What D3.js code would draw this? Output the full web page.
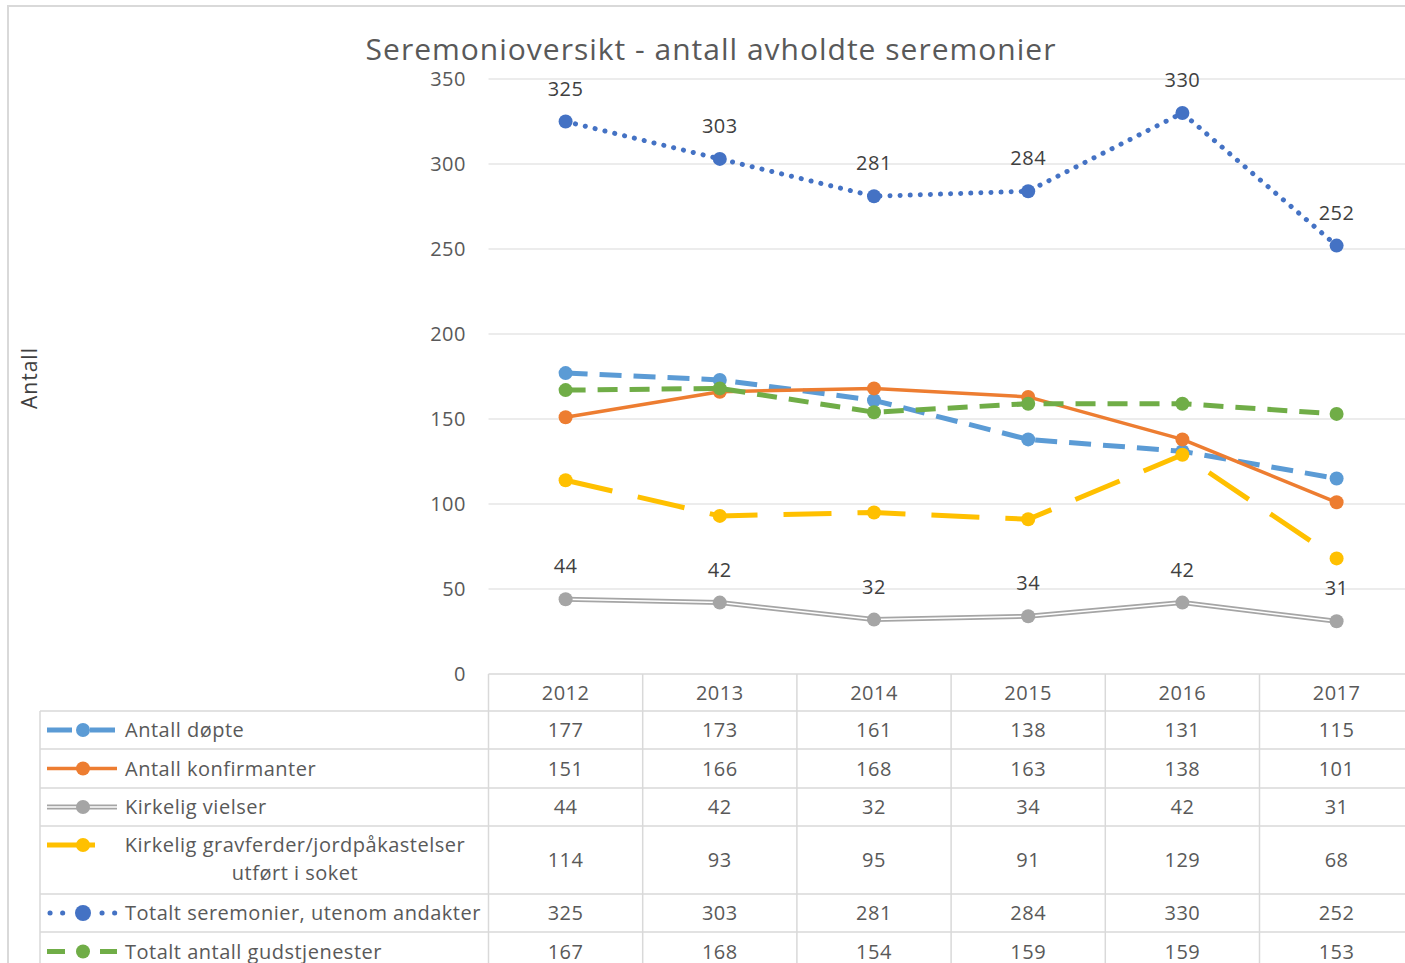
<!DOCTYPE html>
<html>
<head>
<meta charset="utf-8">
<script src="https://cdn.jsdelivr.net/npm/d3@7/dist/d3.min.js"></script>
<style>
  html, body { margin: 0; padding: 0; background: #fff; }
  svg { display: block; font-family: "Open Sans", sans-serif; }
</style>
</head>
<body>
<div id="chart"></div>
<script>
// data
const years = ['2012', '2013', '2014', '2015', '2016', '2017'];
const dopte = [177, 173, 161, 138, 131, 115];
const konfirmanter = [151, 166, 168, 163, 138, 101];
const vielser = [44, 42, 32, 34, 42, 31];
const gravferder = [114, 93, 95, 91, 129, 68];
const seremonier = [325, 303, 281, 284, 330, 252];
const gudstjenester = [167, 168, 154, 159, 159, 153];
const yTicks = [0, 50, 100, 150, 200, 250, 300, 350];

const series = [
    { name: ['Antall døpte'], values: dopte, color: '#5B9BD5', dash: '22 12', keyDash: '25 18', width: 5, cap: 'butt' },
    { name: ['Antall konfirmanter'], values: konfirmanter, color: '#ED7D31', dash: null, keyDash: null, width: 3.5, cap: 'butt' },
    { name: ['Kirkelig vielser'], values: vielser, color: '#A5A5A5', dash: null, keyDash: null, width: 5, cap: 'butt', double: true, labels: true },
    { name: ['Kirkelig gravferder/jordpåkastelser', 'utført i soket'], values: gravferder, color: '#FFC000', dash: '48 26', keyDash: null, keyEnd: 95, width: 5, cap: 'butt' },
    { name: ['Totalt seremonier, utenom andakter'], values: seremonier, color: '#4472C4', dash: '0.1 10', keyDash: '0.1 12.5', keyGap: true, width: 5, cap: 'round', labels: true },
    { name: ['Totalt antall gudstjenester'], values: gudstjenester, color: '#70AD47', dash: '20 12', keyDash: '18 35', width: 5, cap: 'butt' }
];

const W = 1405, H = 963;
const plot = { left: 488.5, right: 1413.7, top: 79, bottom: 674 };
const legend = { left: 40, textX: 125 };
const rowEdges = [674, 711, 749, 788, 826, 894, 932, 971];
const textStyle = g => g.attr('font-size', 20).attr('letter-spacing', 0.5).attr('fill', '#595959');

const svg = d3.select('#chart').append('svg')
    .attr('width', W)
    .attr('height', H);

// frame
svg.append('path')
    .attr('d', `M8,${H} L8,6 L${W},6`)
    .attr('fill', 'none')
    .attr('stroke', '#d9d9d9')
    .attr('stroke-width', 2);

const x = d3.scaleBand().domain(years).range([plot.left, plot.right]);
const y = d3.scaleLinear().domain([0, 350]).range([plot.bottom, plot.top]);
const cx = i => x(years[i]) + x.bandwidth() / 2;

// gridlines
svg.append('g')
    .selectAll('line')
    .data(yTicks.filter(d => d > 0))
    .join('line')
    .attr('x1', plot.left)
    .attr('x2', plot.right)
    .attr('y1', d => y(d))
    .attr('y2', d => y(d))
    .attr('stroke', '#d9d9d9')
    .attr('stroke-width', 1.2);

// y axis labels
const yAxis = d3.axisLeft(y).tickValues(yTicks).tickSize(0).tickPadding(0);
svg.append('g')
    .attr('transform', 'translate(466,0)')
    .call(yAxis)
    .call(g => g.select('.domain').remove())
    .call(g => g.selectAll('text')
        .attr('font-family', '"Open Sans", sans-serif')
        .call(textStyle));

// y axis title
svg.append('text')
    .attr('transform', 'translate(37,378) rotate(-90)')
    .attr('text-anchor', 'middle')
    .attr('font-size', 21)
    .attr('letter-spacing', 1)
    .attr('fill', '#404040')
    .text('Antall');

// title
svg.append('text')
    .attr('x', 711)
    .attr('y', 60)
    .attr('text-anchor', 'middle')
    .attr('font-size', 30)
    .attr('letter-spacing', 1)
    .attr('fill', '#595959')
    .text('Seremonioversikt - antall avholdte seremonier');

// data table grid
const table = svg.append('g').attr('stroke', '#d9d9d9').attr('stroke-width', 1.5);
table.selectAll('line.h')
    .data(rowEdges)
    .join('line')
    .attr('class', 'h')
    .attr('x1', (d, i) => i === 0 ? plot.left : legend.left)
    .attr('x2', W)
    .attr('y1', d => d)
    .attr('y2', d => d);
table.selectAll('line.v')
    .data(years)
    .join('line')
    .attr('class', 'v')
    .attr('x1', d => x(d))
    .attr('x2', d => x(d))
    .attr('y1', rowEdges[0])
    .attr('y2', H);
table.append('line')
    .attr('x1', legend.left).attr('x2', legend.left)
    .attr('y1', rowEdges[1]).attr('y2', H);

// year headers
svg.append('g')
    .selectAll('text')
    .data(years)
    .join('text')
    .attr('x', d => x(d) + x.bandwidth() / 2)
    .attr('y', (rowEdges[0] + rowEdges[1]) / 2 + 7)
    .attr('text-anchor', 'middle')
    .call(textStyle)
    .text(d => d);

// series lines
const line = d3.line()
    .x((d, i) => cx(i))
    .y(d => y(d));

const plotG = svg.append('g');
series.forEach(s => {
    plotG.append('path')
        .attr('d', line(s.values))
        .attr('fill', 'none')
        .attr('stroke', s.color)
        .attr('stroke-width', s.width)
        .attr('stroke-linecap', s.cap)
        .attr('stroke-linejoin', 'round')
        .attr('stroke-dasharray', s.dash);
    if (s.double) {
        plotG.append('path')
            .attr('d', line(s.values))
            .attr('fill', 'none')
            .attr('stroke', '#fff')
            .attr('stroke-width', 1.5);
    }
    plotG.append('g')
        .selectAll('circle')
        .data(s.values)
        .join('circle')
        .attr('cx', (d, i) => cx(i))
        .attr('cy', d => y(d))
        .attr('r', 7)
        .attr('fill', s.color);
    if (s.labels) {
        plotG.append('g')
            .selectAll('text')
            .data(s.values)
            .join('text')
            .attr('x', (d, i) => cx(i))
            .attr('y', d => y(d) - 26)
            .attr('text-anchor', 'middle')
            .call(textStyle)
            .attr('fill', '#404040')
            .text(d => d);
    }
});

// table rows: legend keys, names, values
series.forEach((s, r) => {
    const top = rowEdges[r + 1];
    const single = s.name.length === 1;
    const keyY = single ? (top + rowEdges[r + 2]) / 2 : top + 19;
    const row = svg.append('g');

    const keyEnd = s.keyEnd || 117;
    const segs = s.keyGap ? [[50, 63], [102, 115]] : [[47, keyEnd]];
    segs.forEach(([a, b]) => {
        row.append('line')
            .attr('x1', a).attr('x2', b)
            .attr('y1', keyY).attr('y2', keyY)
            .attr('stroke', s.color)
            .attr('stroke-width', s.width)
            .attr('stroke-linecap', s.cap)
            .attr('stroke-dasharray', s.keyDash);
    });
    if (s.double) {
        row.append('line')
            .attr('x1', 47).attr('x2', keyEnd)
            .attr('y1', keyY).attr('y2', keyY)
            .attr('stroke', '#fff')
            .attr('stroke-width', 1.5);
    }
    row.append('circle')
        .attr('cx', 83).attr('cy', keyY)
        .attr('r', s.keyGap ? 8 : 7)
        .attr('fill', s.color);

    row.selectAll('text.name')
        .data(s.name)
        .join('text')
        .attr('class', 'name')
        .attr('x', single ? legend.textX : 295)
        .attr('y', (d, i) => keyY + 7 + i * 28)
        .attr('text-anchor', single ? 'start' : 'middle')
        .call(textStyle)
        .text(d => d);

    const midY = (top + rowEdges[r + 2]) / 2;
    row.selectAll('text.val')
        .data(s.values)
        .join('text')
        .attr('class', 'val')
        .attr('x', (d, i) => cx(i))
        .attr('y', midY + 7)
        .attr('text-anchor', 'middle')
        .call(textStyle)
        .text(d => d);
});
</script>
</body>
</html>
